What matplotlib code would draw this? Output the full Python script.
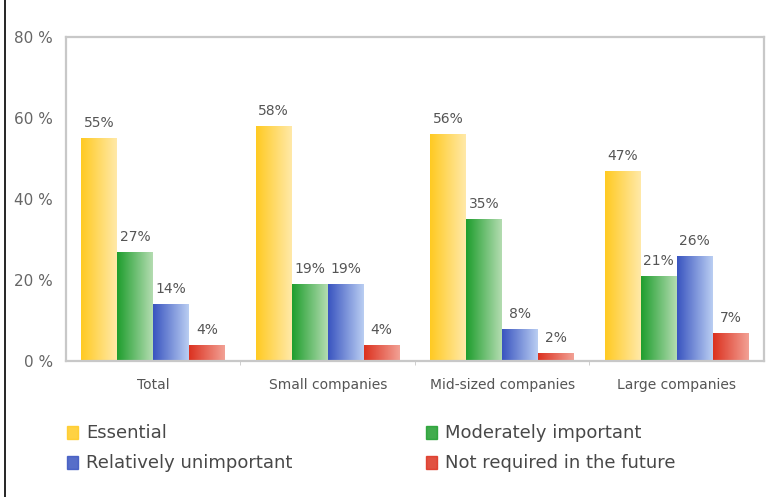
import numpy as np
import matplotlib
matplotlib.use('Agg')
import matplotlib.pyplot as plt
from matplotlib.colors import LinearSegmentedColormap
from matplotlib.patches import Rectangle
from matplotlib.lines import Line2D

categories = ["Total", "Small companies", "Mid-sized companies", "Large companies"]
series = ["Essential", "Moderately important", "Relatively unimportant", "Not required in the future"]
essential = [55, 58, 56, 47]
moderate = [27, 19, 35, 21]
unimportant = [14, 19, 8, 26]
not_required = [4, 4, 2, 7]
yticks = [0, 20, 40, 60, 80]

values = [essential, moderate, unimportant, not_required]
# left (saturated) -> right (pale) colours for each series
grads = [("#ffca22", "#ffe9a8"),
         ("#1f9e2e", "#b3dcb0"),
         ("#3a55c0", "#b9cdf2"),
         ("#dc3220", "#f2a094")]

fig = plt.figure(figsize=(7.67, 4.97), dpi=100)
ax = fig.add_axes([0.086, 0.2736, 0.910, 0.652])

x = np.arange(len(categories))
w = 0.206
ramp = np.linspace(0, 1, 64).reshape(1, -1)
for i, (vals, (c0, c1)) in enumerate(zip(values, grads)):
    cmap = LinearSegmentedColormap.from_list("g%d" % i, [c0, c1])
    bars = ax.bar(x + (i - 1.5) * w, vals, w, color='none', edgecolor='none', zorder=2)
    for b, v in zip(bars, vals):
        x0 = b.get_x()
        im = ax.imshow(ramp, extent=[x0, x0 + b.get_width(), 0, v], cmap=cmap,
                       aspect='auto', zorder=2, interpolation='bilinear')
        im.set_clip_path(b)
        ax.annotate("%d%%" % v, (b.get_x() + b.get_width() / 2, v), xytext=(0, 8),
                    textcoords='offset points', ha='center', va='baseline',
                    fontsize=10, color='#555555')

ax.set_xlim(-0.5, 3.5)
ax.set_ylim(0, 80)
ax.set_yticks(yticks)
ax.set_yticklabels(["%d %%" % t for t in yticks], fontsize=11, color='#666666')
ax.set_xticks(x)
ax.set_xticklabels(categories, fontsize=10, color='#555555')
ax.tick_params(axis='y', length=0, pad=9.4)
ax.tick_params(axis='x', length=0, pad=12)
ax.set_xticks([0.5, 1.5, 2.5], minor=True)
ax.tick_params(axis='x', which='minor', length=3, color='#c8c8c8', direction='out')
for s in ax.spines.values():
    s.set_color('#c8c8c8')
    s.set_linewidth(1.6)

# legend drawn in figure coordinates
W, H = 767, 497
rows = [433, 463]
cols = [(67, 86), (426, 445)]
for k, name in enumerate(series):
    r, c = divmod(k, 2)
    mx, tx = cols[c]
    y = rows[r]
    fig.patches.append(Rectangle((mx / W, 1 - (y + 6) / H), 11 / W, 13 / H,
                                 transform=fig.transFigure, color=grads[k][0], alpha=0.85))
    fig.text(tx / W, 1 - y / H, name, fontsize=13, color='#484848', va='center', ha='left')

# thin black border line along the left edge
fig.lines.append(Line2D([5 / W, 5 / W], [0, 1], transform=fig.transFigure, color='black', lw=1.2))

fig.savefig("out.png", dpi=100)
